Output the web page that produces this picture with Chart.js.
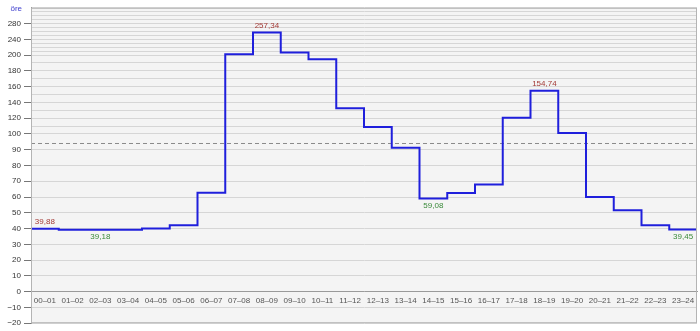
<!DOCTYPE html>
<html>
<head>
<meta charset="utf-8">
<script src="https://cdn.jsdelivr.net/npm/chart.js@4"></script>
<style>
html, body { margin: 0; padding: 0; background: #fff; }
#wrap { width: 700px; height: 331px; }
</style>
</head>
<body>
<div id="wrap"><canvas id="price-chart"></canvas></div>
<script>
const hours = ['00–01', '01–02', '02–03', '03–04', '04–05', '05–06', '06–07', '07–08',
    '08–09', '09–10', '10–11', '11–12', '12–13', '13–14', '14–15', '15–16',
    '16–17', '17–18', '18–19', '19–20', '20–21', '21–22', '22–23', '23–24'];
const prices = [39.88, 39.3, 39.18, 39.3, 40.0, 42.1, 62.7, 202.0,
    257.34, 206.8, 194.6, 132.5, 108.8, 91.25, 59.08, 62.5,
    68.0, 120.4, 154.74, 101.2, 60.0, 51.7, 42.1, 39.45];
const yTickLabels = [-20, -10, 0, 10, 20, 30, 40, 50, 60, 70, 80, 90, 100,
    120, 140, 160, 180, 200, 240, 280];
const maxIndexes = [0, 8, 18];
const minIndexes = [2, 14, 23];
const unitText = 'öre';

let average = prices.reduce((a, b) => a + b, 0) / prices.length;

// y axis is squeezed above 100 and again above 200
function squash(v) {
    if (v <= 100) return v;
    if (v <= 200) return 100 + (v - 100) / 2;
    return 150 + (v - 200) / 4;
}
function unsquash(f) {
    if (f <= 100) return f;
    if (f <= 150) return 100 + (f - 100) * 2;
    return 200 + (f - 150) * 4;
}

let gridValues = [];
for (let v = -20; v <= 320; v += 10) gridValues.push(v);

let lineData = prices.map((p, i) => ({x: i, y: squash(p)}));
lineData.push({x: prices.length, y: squash(prices[prices.length - 1])});

function formatValue(v) {
    return v.toFixed(2).replace('.', ',');
}
function isLabelled(value) {
    return yTickLabels.includes(Math.round(unsquash(value)));
}

const FONT = '"Liberation Sans", Arial, sans-serif';

const plotDecor = {
    id: 'plotDecor',
    beforeDraw(chart) {
        let {ctx, chartArea} = chart;
        ctx.save();
        ctx.fillStyle = '#f4f4f4';
        ctx.fillRect(chartArea.left, chartArea.top, chartArea.width, chartArea.height);
        ctx.restore();
    },
    afterDraw(chart) {
        let {ctx, chartArea, scales} = chart;
        ctx.save();
        ctx.strokeStyle = '#b4b4b4';
        ctx.lineWidth = 1;
        ctx.strokeRect(chartArea.left + 0.5, chartArea.top + 0.5, chartArea.width - 1, chartArea.height - 1);

        ctx.font = '8px ' + FONT;
        ctx.textAlign = 'center';
        ctx.textBaseline = 'middle';
        ctx.fillStyle = '#a33a36';
        for (let i of maxIndexes) {
            let x = scales.x.getPixelForValue(i + 0.5);
            let y = scales.y.getPixelForValue(squash(prices[i]));
            ctx.fillText(formatValue(prices[i]), x, y - 7);
        }
        ctx.fillStyle = '#3a8a3a';
        for (let i of minIndexes) {
            let x = scales.x.getPixelForValue(i + 0.5);
            let y = scales.y.getPixelForValue(squash(prices[i]));
            ctx.fillText(formatValue(prices[i]), x, y + 7);
        }

        ctx.fillStyle = '#3a3acc';
        ctx.textAlign = 'right';
        ctx.fillText(unitText, 22, 9);
        ctx.restore();
    }
};

let chart = new Chart(document.getElementById('price-chart'), {
    type: 'line',
    data: {
        datasets: [{
            data: lineData,
            stepped: 'before',
            borderColor: '#1f1fdc',
            borderWidth: 2,
            pointRadius: 0,
            fill: false
        }, {
            data: [{x: 0, y: squash(average)}, {x: prices.length, y: squash(average)}],
            borderColor: '#8a8a8a',
            borderWidth: 1,
            borderDash: [4, 3],
            pointRadius: 0,
            fill: false
        }]
    },
    options: {
        responsive: true,
        maintainAspectRatio: false,
        animation: false,
        layout: {
            padding: {top: 5, right: 3, bottom: 6, left: 0}
        },
        plugins: {
            legend: {display: false},
            tooltip: {enabled: false}
        },
        scales: {
            x: {
                type: 'linear',
                min: 0,
                max: prices.length,
                position: {y: 0},
                afterBuildTicks: scale => {
                    scale.ticks = hours.map((_, i) => ({value: i + 0.5}));
                },
                afterFit: scale => {
                    scale.height = 0;
                },
                ticks: {
                    autoSkip: false,
                    maxRotation: 0,
                    padding: 4,
                    color: '#555',
                    font: {family: FONT, size: 8},
                    callback: value => hours[Math.floor(value)]
                },
                grid: {display: false, drawTicks: false},
                border: {color: '#9a9a9a', width: 1}
            },
            y: {
                type: 'linear',
                min: -20,
                max: squash(320),
                afterBuildTicks: scale => {
                    scale.ticks = gridValues.map(v => ({value: squash(v)}));
                },
                afterFit: scale => {
                    scale.width = 31;
                },
                ticks: {
                    autoSkip: false,
                    padding: 3,
                    color: '#333',
                    font: {family: FONT, size: 8},
                    callback: value => {
                        let v = Math.round(unsquash(value));
                        if (!yTickLabels.includes(v)) return '';
                        return v < 0 ? '\u2212' + Math.abs(v) : String(v);
                    }
                },
                grid: {
                    color: '#d6d6d6',
                    tickLength: 7,
                    tickColor: ctx => isLabelled(ctx.tick.value) ? '#777' : 'rgba(0,0,0,0)'
                },
                border: {color: '#9a9a9a', width: 1}
            }
        }
    },
    plugins: [plotDecor]
});
</script>
</body>
</html>
